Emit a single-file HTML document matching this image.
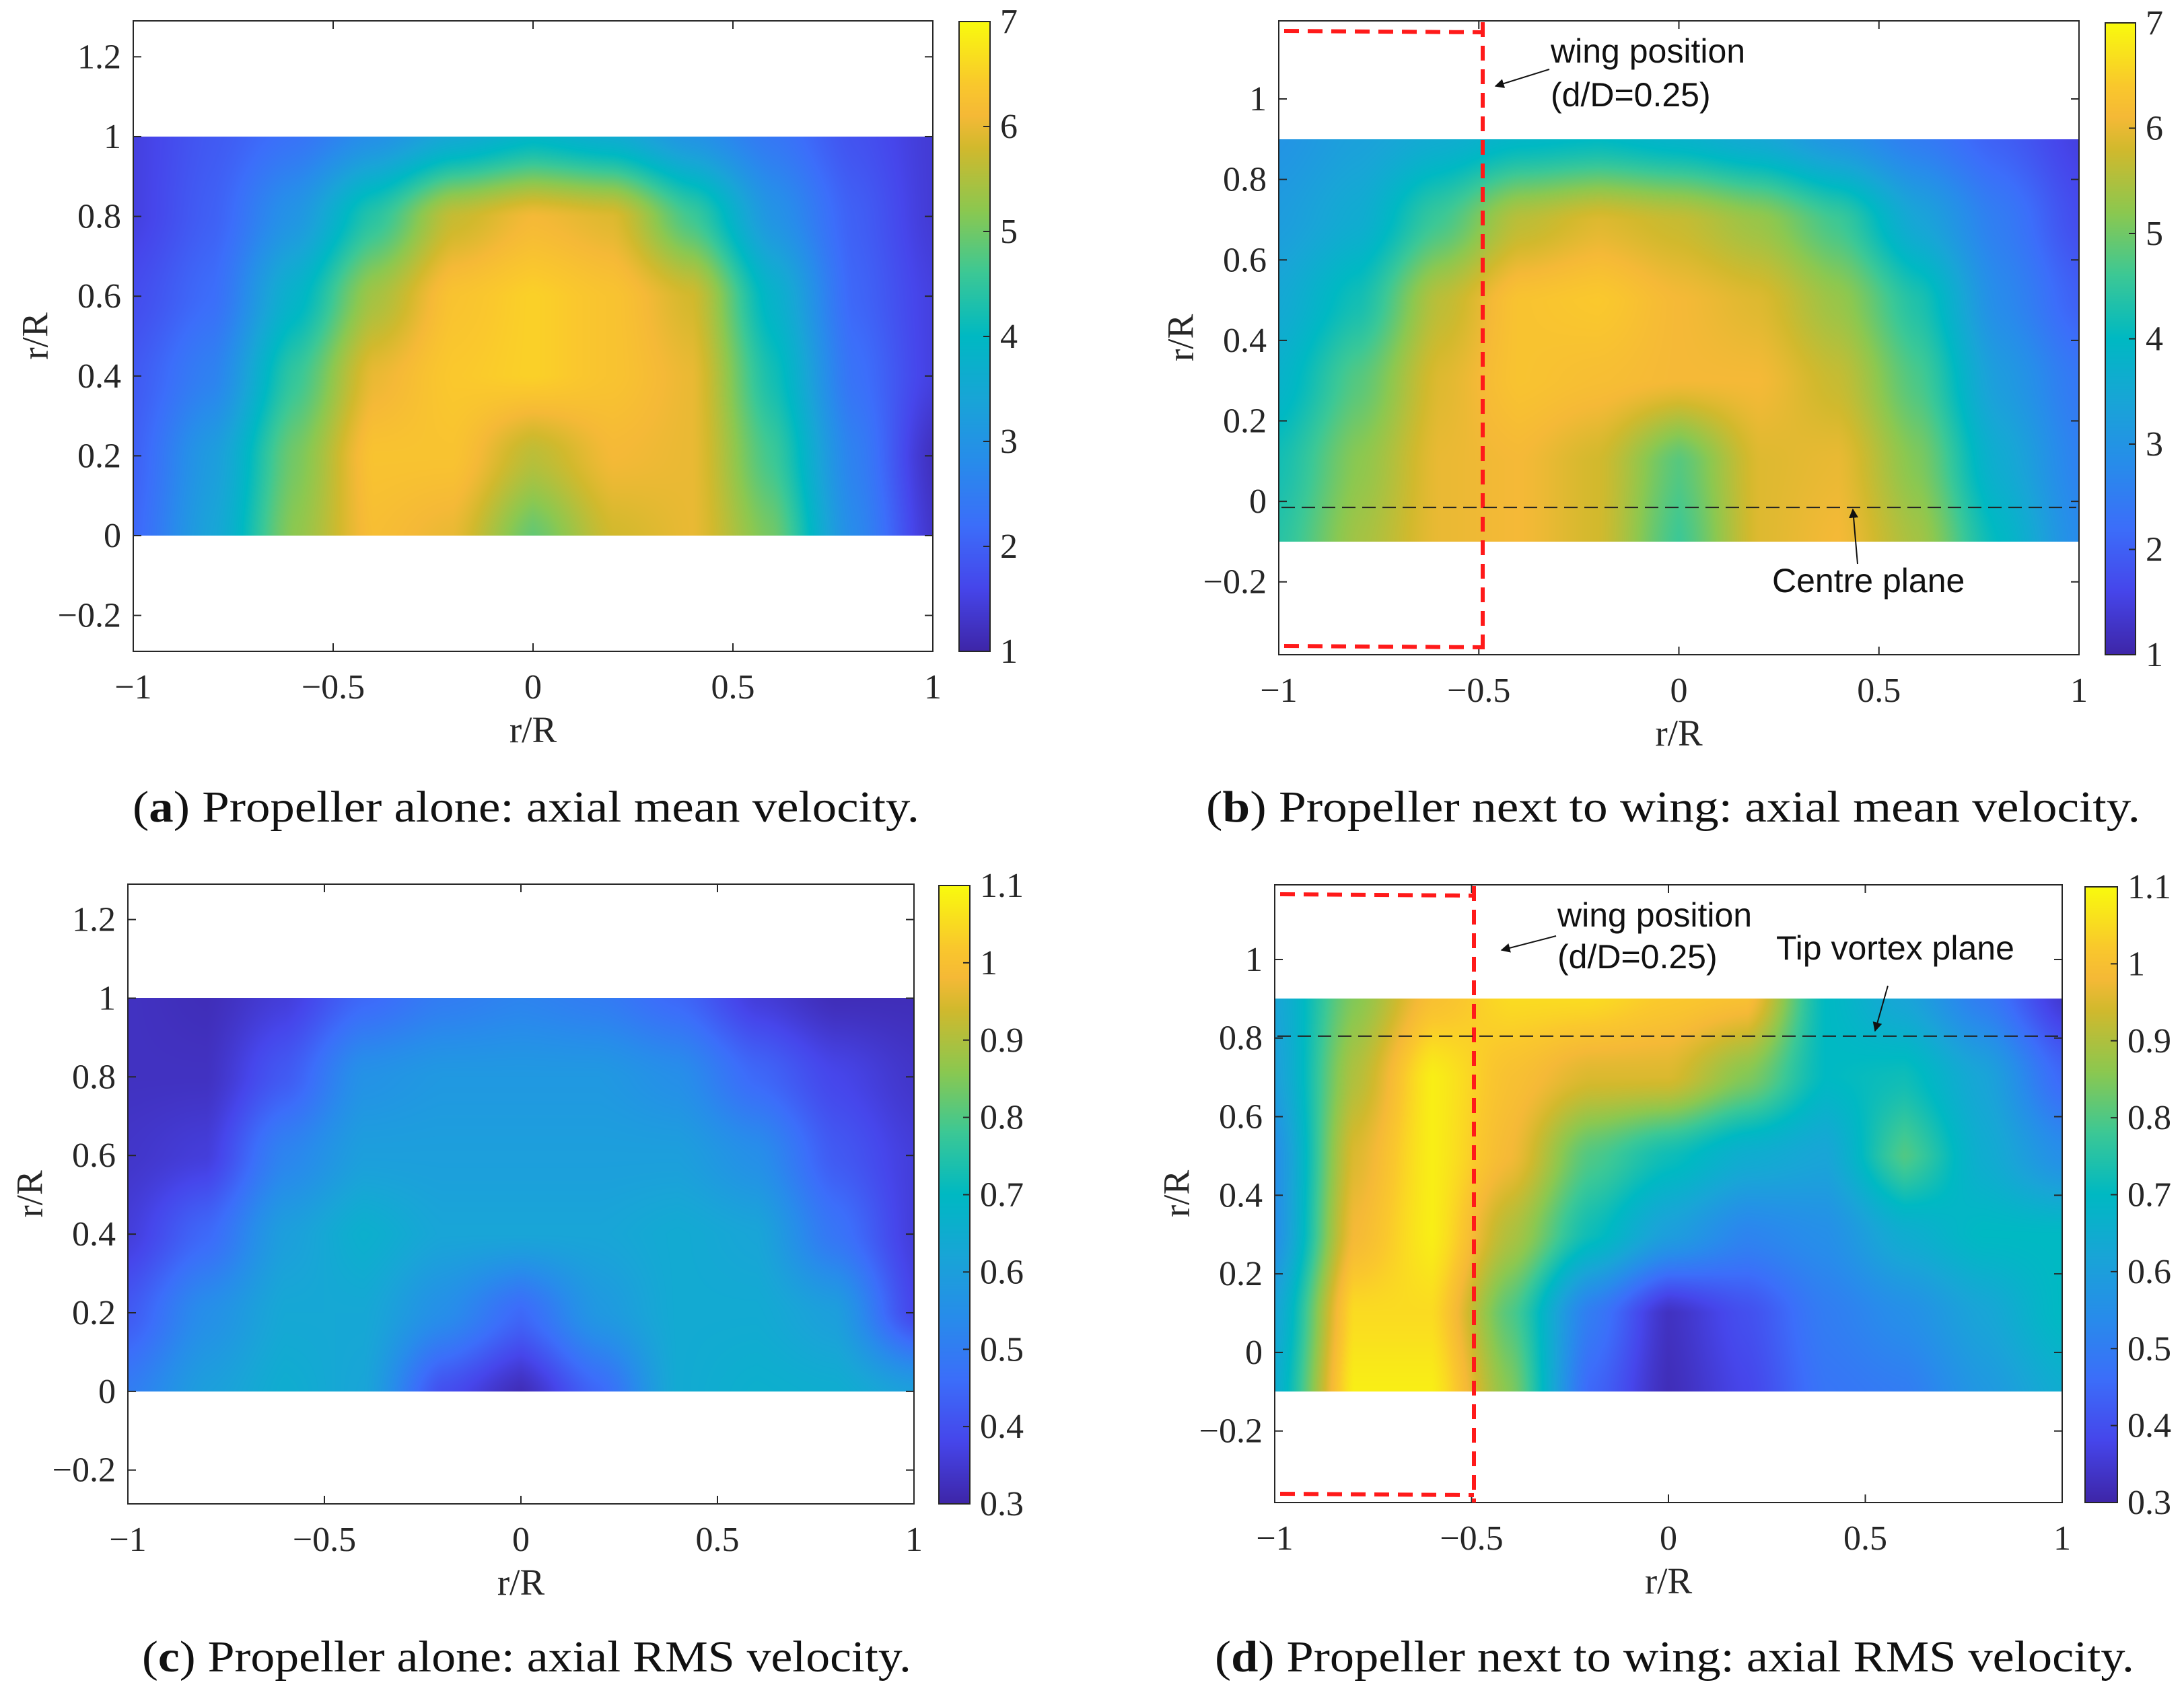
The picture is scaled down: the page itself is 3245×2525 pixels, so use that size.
<!DOCTYPE html>
<html><head><meta charset="utf-8">
<style>
html,body{margin:0;padding:0;background:#fff;}
#root{position:relative;width:3245px;height:2525px;overflow:hidden;background:#fff;}
canvas{position:absolute;}
svg{position:absolute;left:0;top:0;}
</style></head>
<body>
<div id="root">
<canvas id="cA"></canvas>
<canvas id="cB"></canvas>
<canvas id="cC"></canvas>
<canvas id="cD"></canvas>
<canvas id="kA"></canvas>
<canvas id="kB"></canvas>
<canvas id="kC"></canvas>
<canvas id="kD"></canvas>
<svg id="ov" width="3245" height="2525" xmlns="http://www.w3.org/2000/svg"></svg>
</div>
<script>
// ---- data ----
const gridX = [-1,-0.8,-0.6,-0.4,-0.2,0,0.2,0.4,0.6,0.8,1];
const gridYAlone = [0,0.2,0.4,0.6,0.8,1.0];
const gridYWing = [-0.1,0.1,0.3,0.5,0.7,0.9];
// rows listed bottom to top
const meanAlone = [
 [2.1,3.4,5.2,6.2,6.0,4.9,5.8,6.0,5.0,2.8,1.3],
 [2.0,3.2,5.0,6.3,6.3,5.6,6.1,6.0,4.6,2.6,1.2],
 [1.9,2.6,4.5,6.0,6.4,6.5,6.3,6.0,4.2,2.3,1.5],
 [1.7,2.2,3.8,5.4,6.3,6.5,6.3,5.8,3.8,2.1,1.5],
 [1.5,2.0,3.0,4.4,5.7,6.1,5.9,4.6,3.0,2.0,1.4],
 [1.5,1.9,2.3,2.9,3.5,3.9,3.6,3.0,2.4,1.8,1.4]
];
const meanWing = [
 [4.4,5.4,6.0,6.1,5.8,4.6,5.9,6.1,5.4,4.0,2.8],
 [4.2,5.2,6.0,6.1,5.8,4.8,5.9,6.0,5.1,3.6,2.6],
 [3.8,4.8,5.9,6.3,6.2,6.1,6.1,5.7,4.7,3.2,2.4],
 [3.5,4.2,5.6,6.3,6.4,6.1,5.9,5.3,4.3,2.8,2.0],
 [3.2,3.6,4.6,5.6,5.9,5.7,5.3,4.6,3.4,2.5,1.7],
 [3.0,3.3,3.6,3.9,4.0,3.8,3.5,3.0,2.5,2.0,1.5]
];
const rmsAlone = [
 [0.50,0.60,0.65,0.62,0.40,0.32,0.45,0.64,0.66,0.65,0.60],
 [0.42,0.55,0.63,0.63,0.55,0.45,0.58,0.64,0.64,0.60,0.38],
 [0.36,0.45,0.60,0.66,0.62,0.62,0.62,0.64,0.62,0.48,0.36],
 [0.34,0.36,0.52,0.60,0.60,0.60,0.60,0.60,0.55,0.42,0.36],
 [0.33,0.33,0.42,0.56,0.58,0.58,0.58,0.55,0.45,0.38,0.34],
 [0.33,0.32,0.36,0.45,0.50,0.52,0.50,0.45,0.36,0.32,0.32]
];
const rmsWing = [
 [0.65,1.08,1.08,0.85,0.45,0.32,0.38,0.48,0.50,0.58,0.65],
 [0.62,1.05,1.05,0.80,0.50,0.33,0.40,0.50,0.55,0.62,0.70],
 [0.55,0.98,1.08,0.90,0.72,0.60,0.52,0.55,0.65,0.70,0.70],
 [0.55,0.95,1.08,0.98,0.80,0.72,0.65,0.62,0.80,0.65,0.55],
 [0.60,0.90,1.08,1.00,0.95,0.95,0.85,0.70,0.72,0.62,0.45],
 [0.62,0.85,1.00,1.05,1.05,1.02,1.00,0.70,0.62,0.50,0.35]
];
const ticksX = [-1,-0.5,0,0.5,1];
const ticksXLabels = ["−1","−0.5","0","0.5","1"];
const ticksYAlone = [-0.2,0,0.2,0.4,0.6,0.8,1,1.2];
const ticksYAloneLabels = ["−0.2","0","0.2","0.4","0.6","0.8","1","1.2"];
const ticksYWing = [-0.2,0,0.2,0.4,0.6,0.8,1];
const ticksYWingLabels = ["−0.2","0","0.2","0.4","0.6","0.8","1"];
const cticksMean = [1,2,3,4,5,6,7];
const cticksMeanLabels = ["1","2","3","4","5","6","7"];
const cticksRms = [0.3,0.4,0.5,0.6,0.7,0.8,0.9,1.0,1.1];
const cticksRmsLabels = ["0.3","0.4","0.5","0.6","0.7","0.8","0.9","1","1.1"];

// ---- colormap (parula-like) ----
const CM = [[0,62,38,168],[0.1,70,70,235],[0.2,60,110,250],[0.3,40,140,235],[0.4,25,165,215],[0.5,0,185,195],[0.6,60,200,150],[0.7,140,200,80],[0.8,210,185,45],[0.85,245,185,55],[0.9,250,200,45],[1,249,251,14]];
function cmap(t){t=Math.max(0,Math.min(1,t));for(let i=1;i<CM.length;i++){if(t<=CM[i][0]){const a=CM[i-1],b=CM[i],f=(t-a[0])/(b[0]-a[0]);return [a[1]+(b[1]-a[1])*f,a[2]+(b[2]-a[2])*f,a[3]+(b[3]-a[3])*f];}}return [249,251,14];}

const NS="http://www.w3.org/2000/svg";
const ov=document.getElementById('ov');
function el(tag,attrs,parent,txt){const e=document.createElementNS(NS,tag);for(const k in attrs)e.setAttribute(k,attrs[k]);if(txt!==undefined)e.textContent=txt;(parent||ov).appendChild(e);return e;}

function interp(zs,gy,x,y){
  let i=0;while(i<gridX.length-2&&x>gridX[i+1])i++;
  let j=0;while(j<gy.length-2&&y>gy[j+1])j++;
  let fx=(x-gridX[i])/(gridX[i+1]-gridX[i]),fy=(y-gy[j])/(gy[j+1]-gy[j]);
  fx=Math.max(0,Math.min(1,fx));fy=Math.max(0,Math.min(1,fy));
  fx=fx*fx*(3-2*fx)*0.5+fx*0.5;fy=fy*fy*(3-2*fy)*0.5+fy*0.5;
  const a=zs[j][i],b=zs[j][i+1],c=zs[j+1][i],d=zs[j+1][i+1];
  return a*(1-fx)*(1-fy)+b*fx*(1-fy)+c*(1-fx)*fy+d*fx*fy;
}

function panel(p){
  const sx=v=>p.l+(v+1)/2*(p.r-p.l);
  const sy=v=>p.b-(v-p.ylim[0])/(p.ylim[1]-p.ylim[0])*(p.b-p.t);
  const y0=p.gy[0],y1=p.gy[p.gy.length-1];
  const top=Math.round(sy(y1)),bot=Math.round(sy(y0));
  const cv=document.getElementById(p.cid);
  const w=p.r-p.l,h=bot-top;
  cv.width=w;cv.height=h;cv.style.left=p.l+'px';cv.style.top=top+'px';
  const ctx=cv.getContext('2d');const img=ctx.createImageData(w,h);
  for(let py=0;py<h;py++){const yv=y1-(py+0.5)/h*(y1-y0);
    for(let px=0;px<w;px++){const xv=-1+(px+0.5)/w*2;
      const z=interp(p.z,p.gy,xv,yv);const c=cmap((z-p.clim[0])/(p.clim[1]-p.clim[0]));
      const k=(py*w+px)*4;img.data[k]=c[0];img.data[k+1]=c[1];img.data[k+2]=c[2];img.data[k+3]=255;}}
  ctx.putImageData(img,0,0);
  const kb=document.getElementById(p.kid);const cw=p.cb.r-p.cb.l,ch=p.cb.b-p.cb.t;
  kb.width=cw;kb.height=ch;kb.style.left=p.cb.l+'px';kb.style.top=p.cb.t+'px';
  const kc=kb.getContext('2d');
  for(let py=0;py<ch;py++){const c=cmap(1-(py+0.5)/ch);kc.fillStyle=`rgb(${c[0]|0},${c[1]|0},${c[2]|0})`;kc.fillRect(0,py,cw,1);}
  const g=el('g',{});
  
  
  const box=el('rect',{x:p.l,y:p.t,width:p.r-p.l,height:p.b-p.t,fill:'none',stroke:'#262626','stroke-width':2},g);
  
  
  const tf='font-family:"Liberation Serif",serif;font-size:52px;fill:#262626';
  ticksX.forEach((v,i)=>{const x=sx(v);
    el('line',{x1:x,y1:p.b,x2:x,y2:p.b-12,stroke:'#262626','stroke-width':2},g);
    el('line',{x1:x,y1:p.t,x2:x,y2:p.t+12,stroke:'#262626','stroke-width':2},g);
    const t=el('text',{x:x,y:p.b+70,'text-anchor':'middle',style:tf},g,ticksXLabels[i]);
    
    });
  p.yt.forEach((v,i)=>{const y=sy(v);
    el('line',{x1:p.l,y1:y,x2:p.l+12,y2:y,stroke:'#262626','stroke-width':2},g);
    el('line',{x1:p.r,y1:y,x2:p.r-12,y2:y,stroke:'#262626','stroke-width':2},g);
    const t=el('text',{x:p.l-18,y:y+17,'text-anchor':'end',style:tf},g,p.ytl[i]);
    
    });
  const xl=el('text',{x:(p.l+p.r)/2,y:p.b+135,'text-anchor':'middle',style:'font-family:"Liberation Serif",serif;font-size:55px;fill:#262626'},g,'r/R');
  
  
  const yc=(p.t+p.b)/2;
  const yl=el('text',{x:p.l-140,y:yc,'text-anchor':'middle',transform:`rotate(-90 ${p.l-140} ${yc})`,'dominant-baseline':'middle',style:'font-family:"Liberation Serif",serif;font-size:55px;fill:#262626'},g,'r/R');
  
  
  el('rect',{x:p.cb.l,y:p.cb.t,width:cw,height:ch,fill:'none',stroke:'#262626','stroke-width':2},g);
  p.ct.forEach((v,i)=>{const y=p.cb.b-(v-p.clim[0])/(p.clim[1]-p.clim[0])*ch;
    el('line',{x1:p.cb.r,y1:y,x2:p.cb.r-10,y2:y,stroke:'#262626','stroke-width':2},g);
    const t=el('text',{x:p.cb.r+15,y:y+17,style:tf},g,p.ctl[i]);
    
    });
  const cap=el('text',{x:p.cap[0],y:p.cap[1],textLength:p.cap[2]-p.cap[0],lengthAdjust:'spacingAndGlyphs',style:'font-family:"Liberation Serif",serif;font-size:66px;fill:#111'},g);
  
  
  el('tspan',{},cap,'(');el('tspan',{'font-weight':'bold'},cap,p.letter);el('tspan',{},cap,') '+p.capText);
  p.sx=sx;p.sy=sy;return p;
}

const A=panel({name:'panel-a',cid:'cA',kid:'kA',l:198,r:1386,t:31,b:968,ylim:[-0.29,1.29],gy:gridYAlone,z:meanAlone,clim:[1,7],yt:ticksYAlone,ytl:ticksYAloneLabels,ct:cticksMean,ctl:cticksMeanLabels,cb:{l:1425,r:1471,t:32,b:968},cap:[197,1221,1366],letter:'a',capText:'Propeller alone: axial mean velocity.'});
const B=panel({name:'panel-b',cid:'cB',kid:'kB',l:1900,r:3089,t:31,b:973,ylim:[-0.381,1.194],gy:gridYWing,z:meanWing,clim:[1,7],yt:ticksYWing,ytl:ticksYWingLabels,ct:cticksMean,ctl:cticksMeanLabels,cb:{l:3128,r:3173,t:34,b:973},cap:[1792,1221,3180],letter:'b',capText:'Propeller next to wing: axial mean velocity.'});
const C=panel({name:'panel-c',cid:'cC',kid:'kC',l:190,r:1358,t:1314,b:2235,ylim:[-0.286,1.29],gy:gridYAlone,z:rmsAlone,clim:[0.3,1.1],yt:ticksYAlone,ytl:ticksYAloneLabels,ct:cticksRms,ctl:cticksRmsLabels,cb:{l:1395,r:1441,t:1316,b:2235},cap:[211,2484,1354],letter:'c',capText:'Propeller alone: axial RMS velocity.'});
const D=panel({name:'panel-d',cid:'cD',kid:'kD',l:1894,r:3064,t:1315,b:2233,ylim:[-0.382,1.19],gy:gridYWing,z:rmsWing,clim:[0.3,1.1],yt:ticksYWing,ytl:ticksYWingLabels,ct:cticksRms,ctl:cticksRmsLabels,cb:{l:3098,r:3146,t:1318,b:2233},cap:[1805,2484,3171],letter:'d',capText:'Propeller next to wing: axial RMS velocity.'});

el('defs',{}).innerHTML='<marker id="ah" viewBox="0 0 10 10" refX="9" refY="5" markerWidth="7" markerHeight="7" orient="auto"><path d="M0,0 L10,5 L0,10 z" fill="#111"/></marker>';
const sf='font-family:"Liberation Sans",sans-serif;font-size:50px;fill:#111';
function wing(P,xr,yTop,yBot){
  const g=el('g',{});
  
  
  const d=`M${P.l+8},${yTop} L${xr},${yTop+2} M${P.l+8},${yBot} L${xr},${yBot+2}`;
  el('path',{d:d,fill:'none',stroke:'#ff1a1a','stroke-width':6,'stroke-dasharray':'22 13'},g);
  el('line',{x1:xr,y1:P.t+2,x2:xr,y2:P.b,stroke:'#ff1a1a','stroke-width':6,'stroke-dasharray':'22 13'},g);
}
function hline(P,v,nm){const l=el('line',{x1:P.l+4,y1:P.sy(v),x2:P.r-4,y2:P.sy(v),stroke:'#222','stroke-width':2,'stroke-dasharray':'20 10'});
  
  }
wing(B,2203,46,960);
hline(B,-0.015,'centre-plane-line');
let t=el('text',{x:2304,y:93,style:sf},ov,'wing position');


el('text',{x:2304,y:158,style:sf},ov,'(d/D=0.25)');
el('line',{x1:2302,y1:103,x2:2222,y2:128,stroke:'#111','stroke-width':2,'marker-end':'url(#ah)'});
t=el('text',{x:2633,y:880,style:sf},ov,'Centre plane');


el('line',{x1:2760,y1:838,x2:2753,y2:757,stroke:'#111','stroke-width':2,'marker-end':'url(#ah)'});

wing(D,2190,1329,2220);
hline(D,0.805,'tip-vortex-plane-line');
t=el('text',{x:2314,y:1377,style:sf},ov,'wing position');


el('text',{x:2314,y:1439,style:sf},ov,'(d/D=0.25)');
el('line',{x1:2312,y1:1391,x2:2231,y2:1412,stroke:'#111','stroke-width':2,'marker-end':'url(#ah)'});
t=el('text',{x:2639,y:1426,style:sf},ov,'Tip vortex plane');


el('line',{x1:2805,y1:1465,x2:2786,y2:1532,stroke:'#111','stroke-width':2,'marker-end':'url(#ah)'});
</script>
</body></html>
